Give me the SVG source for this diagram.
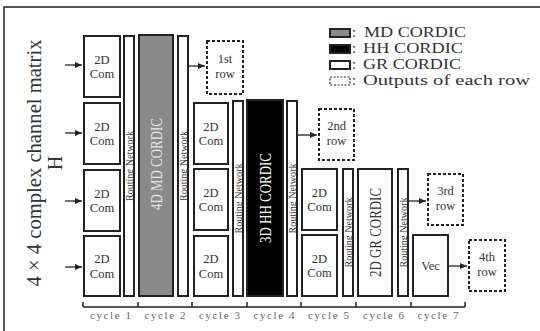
<svg xmlns="http://www.w3.org/2000/svg" width="540" height="331" viewBox="0 0 540 331">
<defs>
<marker id="ah" markerUnits="userSpaceOnUse" markerWidth="8" markerHeight="7" refX="7" refY="3" orient="auto">
<path d="M0,0 L7,3 L0,6 z" fill="#222"/>
</marker>
</defs>
<style>
text{font-family:"Liberation Serif","DejaVu Serif",serif;fill:#333}
.box{fill:#fff;stroke:#222;stroke-width:2}
.rn{fill:#fff;stroke:#222;stroke-width:2}
.md{fill:#8a8a8a;stroke:#222;stroke-width:2}
.hh{fill:#000;stroke:#222;stroke-width:2}
.out{fill:#fff;stroke:#222;stroke-width:2;stroke-dasharray:3,2}
.lbl{font-size:12.5px;text-anchor:middle}
.rnt{font-size:10px;text-anchor:middle}
.ct{font-size:16px;text-anchor:middle}
.cyc{font-size:11px;text-anchor:middle;fill:#666}
.leg{font-size:15px}
.arr{stroke:#222;stroke-width:1.3;fill:none;marker-end:url(#ah)}
.tick{stroke:#222;stroke-width:1.5;fill:none}
</style>
<rect x="4" y="7" width="540" height="330" fill="#fff" stroke="#222" stroke-width="1.5"/>
<text transform="translate(41,163) rotate(-90)" font-size="20" text-anchor="middle" textLength="247" lengthAdjust="spacingAndGlyphs">4 × 4 complex channel matrix</text>
<text transform="translate(62,163) rotate(-90)" font-size="20" text-anchor="middle">H</text>

<g id="legend">
<rect x="330" y="29" width="20" height="8" class="md" stroke-width="1.5"/>
<rect x="330" y="45" width="20" height="8" class="hh" stroke-width="1.5"/>
<rect x="330" y="61" width="20" height="8" class="box" stroke-width="1.5"/>
<rect x="330" y="77" width="20" height="8" fill="#fff" stroke="#222" stroke-width="1.2" stroke-dasharray="2,1.5"/>
<text class="leg" y="37"><tspan x="352">:</tspan><tspan x="364" textLength="102" lengthAdjust="spacingAndGlyphs">MD CORDIC</tspan></text>
<text class="leg" y="53"><tspan x="352">:</tspan><tspan x="363" textLength="100" lengthAdjust="spacingAndGlyphs">HH CORDIC</tspan></text>
<text class="leg" y="69"><tspan x="352">:</tspan><tspan x="363" textLength="98" lengthAdjust="spacingAndGlyphs">GR CORDIC</tspan></text>
<text class="leg" y="85"><tspan x="352">:</tspan><tspan x="363" textLength="167" lengthAdjust="spacingAndGlyphs">Outputs of each row</tspan></text>
</g>

<g id="c1r1"><rect class="box" x="84" y="36" width="36" height="61"/><text class="lbl" x="102" y="63.5">2D<tspan x="102" dy="14.5">Com</tspan></text></g>
<g id="c1r2"><rect class="box" x="84" y="103" width="36" height="61"/><text class="lbl" x="102" y="130.5">2D<tspan x="102" dy="14.5">Com</tspan></text></g>
<g id="c1r3"><rect class="box" x="84" y="170" width="36" height="61"/><text class="lbl" x="102" y="197.5">2D<tspan x="102" dy="14.5">Com</tspan></text></g>
<g id="c1r4"><rect class="box" x="84" y="236" width="36" height="60"/><text class="lbl" x="102" y="263">2D<tspan x="102" dy="14.5">Com</tspan></text></g>

<g id="rn1"><rect class="rn" x="124" y="36" width="10" height="260"/><text class="rnt" transform="translate(132.5,166) rotate(-90)" textLength="70" lengthAdjust="spacingAndGlyphs">Routing Network</text></g>
<g id="md"><rect class="md" x="139" y="35" width="34" height="261"/><text class="ct" transform="translate(162,164) rotate(-90)" style="fill:#e6e6e6" textLength="92" lengthAdjust="spacingAndGlyphs">4D MD CORDIC</text></g>
<g id="rn2"><rect class="rn" x="178" y="36" width="10" height="260"/><text class="rnt" transform="translate(186.5,166) rotate(-90)" textLength="70" lengthAdjust="spacingAndGlyphs">Routing Network</text></g>
<g id="row1"><rect class="out" x="207" y="41" width="36" height="53"/><text class="lbl" x="225" y="63">1st<tspan x="225" dy="14.5">row</tspan></text></g>

<g id="c3r2"><rect class="box" x="194" y="103" width="34" height="61"/><text class="lbl" x="211" y="130.5">2D<tspan x="211" dy="14.5">Com</tspan></text></g>
<g id="c3r3"><rect class="box" x="194" y="169" width="34" height="61"/><text class="lbl" x="211" y="196.5">2D<tspan x="211" dy="14.5">Com</tspan></text></g>
<g id="c3r4"><rect class="box" x="194" y="236" width="34" height="60"/><text class="lbl" x="211" y="263">2D<tspan x="211" dy="14.5">Com</tspan></text></g>
<g id="rn3"><rect class="rn" x="233" y="101" width="10" height="195"/><text class="rnt" transform="translate(241.5,198.5) rotate(-90)" textLength="70" lengthAdjust="spacingAndGlyphs">Routing Network</text></g>
<g id="hh"><rect class="hh" x="247" y="100" width="36" height="196"/><text class="ct" transform="translate(271,198) rotate(-90)" style="fill:#fff" textLength="90" lengthAdjust="spacingAndGlyphs">3D HH CORDIC</text></g>
<g id="rn4"><rect class="rn" x="287" y="101" width="10" height="195"/><text class="rnt" transform="translate(295.5,198.5) rotate(-90)" textLength="70" lengthAdjust="spacingAndGlyphs">Routing Network</text></g>
<g id="row2"><rect class="out" x="319" y="109" width="35" height="51"/><text class="lbl" x="336.5" y="130">2nd<tspan x="336.5" dy="14.5">row</tspan></text></g>

<g id="c5r3"><rect class="box" x="302" y="169" width="35" height="61"/><text class="lbl" x="319.5" y="196.5">2D<tspan x="319.5" dy="14.5">Com</tspan></text></g>
<g id="c5r4"><rect class="box" x="302" y="235" width="35" height="61"/><text class="lbl" x="319.5" y="262.5">2D<tspan x="319.5" dy="14.5">Com</tspan></text></g>
<g id="rn5"><rect class="rn" x="343" y="169" width="10" height="127"/><text class="rnt" transform="translate(351.5,232.5) rotate(-90)" textLength="70" lengthAdjust="spacingAndGlyphs">Routing Network</text></g>
<g id="gr"><rect class="box" x="358" y="169" width="34" height="127"/><text class="ct" transform="translate(381,232.5) rotate(-90)" textLength="89" lengthAdjust="spacingAndGlyphs">2D GR CORDIC</text></g>
<g id="rn6"><rect class="rn" x="398" y="169" width="10" height="127"/><text class="rnt" transform="translate(406.5,232.5) rotate(-90)" textLength="70" lengthAdjust="spacingAndGlyphs">Routing Network</text></g>
<g id="row3"><rect class="out" x="428" y="174" width="35" height="51"/><text class="lbl" x="445.5" y="195">3rd<tspan x="445.5" dy="14.5">row</tspan></text></g>
<g id="vec"><rect class="box" x="413" y="235" width="35" height="61"/><text class="lbl" x="430.5" y="270">Vec</text></g>
<g id="row4"><rect class="out" x="469" y="240" width="36" height="51"/><text class="lbl" x="487" y="261">4th<tspan x="487" dy="14.5">row</tspan></text></g>

<g id="connectors">
<line class="arr" x1="65" y1="65" x2="82" y2="65"/>
<line class="arr" x1="65" y1="133" x2="82" y2="133"/>
<line class="arr" x1="65" y1="201" x2="82" y2="201"/>
<line class="arr" x1="65" y1="267" x2="82" y2="267"/>
<line class="arr" x1="189" y1="66" x2="205" y2="66"/>
<line class="arr" x1="298" y1="135" x2="317" y2="135"/>
<line class="arr" x1="409" y1="201" x2="426" y2="201"/>
<line class="arr" x1="449" y1="266" x2="467" y2="266"/>
</g>

<g id="cycles">
<path class="tick" d="M83,307 H465 M83,302 V307 M138,302 V307 M192,302 V307 M247,302 V307 M301,302 V307 M356,302 V307 M411,302 V307 M465,302 V307"/>
<text class="cyc" x="110.5" y="319" textLength="41" lengthAdjust="spacing">cycle 1</text>
<text class="cyc" x="165" y="319" textLength="41" lengthAdjust="spacing">cycle 2</text>
<text class="cyc" x="219.5" y="319" textLength="41" lengthAdjust="spacing">cycle 3</text>
<text class="cyc" x="274" y="319" textLength="41" lengthAdjust="spacing">cycle 4</text>
<text class="cyc" x="328.5" y="319" textLength="41" lengthAdjust="spacing">cycle 5</text>
<text class="cyc" x="383.5" y="319" textLength="41" lengthAdjust="spacing">cycle 6</text>
<text class="cyc" x="438" y="319" textLength="41" lengthAdjust="spacing">cycle 7</text>
</g>
</svg>
